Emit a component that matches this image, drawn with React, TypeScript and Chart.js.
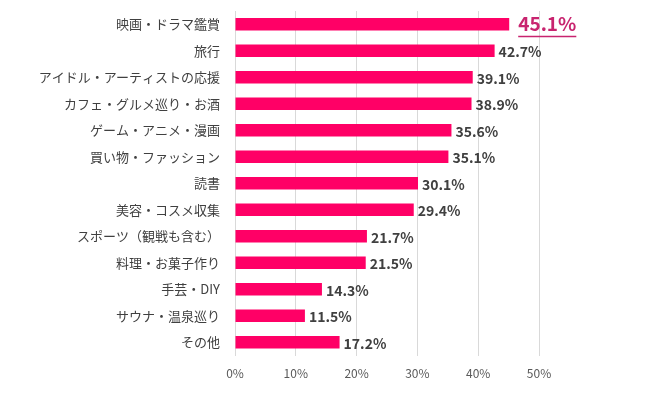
import React, { useEffect, useRef } from "react";
import { Chart, registerables } from "chart.js";

Chart.register(...registerables);

const categories = [
  "映画・ドラマ鑑賞",
  "旅行",
  "アイドル・アーティストの応援",
  "カフェ・グルメ巡り・お酒",
  "ゲーム・アニメ・漫画",
  "買い物・ファッション",
  "読書",
  "美容・コスメ収集",
  "スポーツ（観戦も含む）",
  "料理・お菓子作り",
  "手芸・DIY",
  "サウナ・温泉巡り",
  "その他",
];
const values = [45.1, 42.7, 39.1, 38.9, 35.6, 35.1, 30.1, 29.4, 21.7, 21.5, 14.3, 11.5, 17.2];
const highlightIndex = [0];
const xTicks = [0, 10, 20, 30, 40, 50];

const FONT = "'Noto Sans CJK JP', 'Noto Sans', sans-serif";

const labelPlugin = {
  id: "valueLabels",
  afterDatasetsDraw(chart: any) {
    const ctx = chart.ctx;
    const meta = chart.getDatasetMeta(0);
    meta.data.forEach((el: any, i: number) => {
      const txt = values[i].toFixed(1) + "%";
      ctx.save();
      ctx.textBaseline = "middle";
      ctx.textAlign = "left";
      if (highlightIndex.includes(i)) {
        ctx.font = `bold 19px ${FONT}`;
        ctx.fillStyle = "#C8246F";
        const x = el.x + 9;
        ctx.fillText(txt, x, el.y);
        const w = ctx.measureText(txt).width;
        ctx.fillRect(x, el.y + 11.5, w, 1.5);
      } else {
        ctx.font = `bold 14px ${FONT}`;
        ctx.fillStyle = "#404040";
        ctx.fillText(txt, el.x + 4, el.y + 1);
      }
      ctx.restore();
    });
  },
};

export default function App() {
  const ref = useRef<HTMLCanvasElement>(null);
  useEffect(() => {
    document.body.style.margin = "0";
    const chart = new Chart(ref.current!, {
      type: "bar",
      data: {
        labels: categories,
        datasets: [
          {
            data: values,
            backgroundColor: "#FF0066",
            barPercentage: 0.48,
            categoryPercentage: 1,
          },
        ],
      },
      options: {
        indexAxis: "y",
        animation: false,
        responsive: false,
        maintainAspectRatio: false,
        layout: { padding: { top: 11, right: 111, bottom: 0, left: 0 } },
        plugins: { legend: { display: false }, tooltip: { enabled: false } },
        scales: {
          x: {
            min: 0,
            max: 50,
            afterBuildTicks: (scale: any) => {
              scale.ticks = xTicks.map((v) => ({ value: v }));
            },
            afterFit: (scale: any) => {
              scale.height = 37.5;
              scale.paddingLeft = 0;
              scale.paddingRight = 0;
            },
            grid: { color: "#D9D9D9", drawTicks: false, lineWidth: 1 },
            border: { display: false },
            ticks: {
              padding: 11,
              color: "#595959",
              font: { family: FONT, size: 12 },
              callback: (v: any) => v + "%",
            },
          },
          y: {
            afterFit: (scale: any) => {
              scale.width = 235;
              scale.paddingTop = 0;
              scale.paddingBottom = 0;
            },
            grid: { display: false, drawTicks: false },
            border: { display: false },
            ticks: {
              padding: 15,
              color: "#404040",
              font: { family: FONT, size: 13 },
            },
          },
        },
      },
      plugins: [labelPlugin],
    });
    return () => chart.destroy();
  }, []);
  return (
    <div style={{ width: 650, height: 393, background: "#fff" }}>
      <canvas ref={ref} width={650} height={393} style={{ display: "block" }} />
    </div>
  );
}
